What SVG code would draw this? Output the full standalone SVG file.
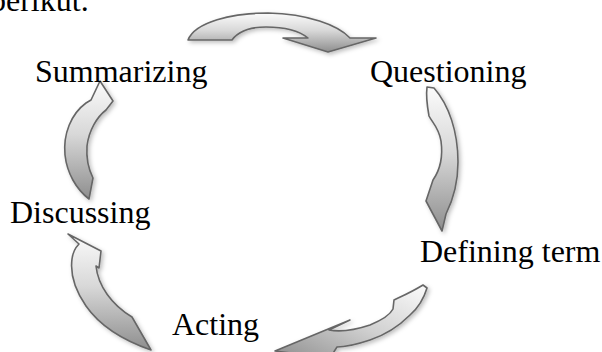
<svg xmlns="http://www.w3.org/2000/svg" width="602" height="352" viewBox="0 0 602 352">
  <defs>
    <linearGradient id="gv" x1="0" y1="0" x2="0" y2="1">
      <stop offset="0" stop-color="#fbfbfb"/>
      <stop offset="0.45" stop-color="#d8d8d8"/>
      <stop offset="1" stop-color="#8e8e8e"/>
    </linearGradient>
    <linearGradient id="gd" x1="1" y1="0" x2="0" y2="1">
      <stop offset="0" stop-color="#fbfbfb"/>
      <stop offset="0.5" stop-color="#d0d0d0"/>
      <stop offset="1" stop-color="#8e8e8e"/>
    </linearGradient>
    <filter id="sh" x="-20%" y="-20%" width="150%" height="150%">
      <feDropShadow dx="2" dy="2" stdDeviation="2" flood-color="#000" flood-opacity="0.25"/>
    </filter>
  </defs>
  <style>
    .lbl { font-family: "Liberation Serif", "Times New Roman", serif; font-size: 32px; fill: #000; }
    .arr { stroke: #666; stroke-width: 1.6; stroke-linejoin: round; filter: url(#sh); }
  </style>
  <rect width="602" height="352" fill="#fff"/>

  <text class="lbl" x="-10" y="11">berikut.</text>

  <g id="connectors">
    <path class="arr" fill="url(#gv)" d="M188,40 C195,22 232,13 268,13 C308,14 338,25 350,38 L376,38 L328,52 L283,38 L308,38 C298,30 282,27 266,27 C250,27 238,32 232,40 Z"/>
    <path class="arr" fill="url(#gv)" d="M427,87 L434,88 C449,105 458,132 458,162 C458,186 452,202 446,214 L442,231 L426,201 L433,180 C440,170 443,156 441,141 C439,128 432,122 429,116 C427,105 426,95 427,87 Z"/>
    <path class="arr" fill="url(#gv)" d="M100,81 L113,101 L106,110 C97,117 89,130 87,146 C86,160 89,170 93,178 L89,199 C76,189 67,173 65,155 C63,134 71,114 86,103 L91,100 Z"/>
    <path class="arr" fill="url(#gv)" d="M68,234 L101,251 L99,268 L96,266 C98,286 112,305 132,317 L151,350 C125,341 100,326 86,306 C75,290 70,274 72,259 C73,251 76,247 79,244 Z"/>
    <path class="arr" fill="url(#gd)" d="M275,351 L350,320 L329,330 C340,332 355,330 370,325 C382,320 390,315 393,309 L394,300 C400,297 410,293 423,285 L427,288 C424,298 418,308 410,315 C400,325 385,335 370,340 C355,345 345,347 337,347 L330,358 Z"/>
  </g>

  <g id="summarizing"><text class="lbl" x="35" y="82">Summarizing</text></g>
  <g id="questioning"><text class="lbl" x="370" y="82">Questioning</text></g>
  <g id="defining-term"><text class="lbl" x="420" y="262">Defining term</text></g>
  <g id="acting"><text class="lbl" x="172" y="335">Acting</text></g>
  <g id="discussing"><text class="lbl" x="10" y="223">Discussing</text></g>
</svg>
